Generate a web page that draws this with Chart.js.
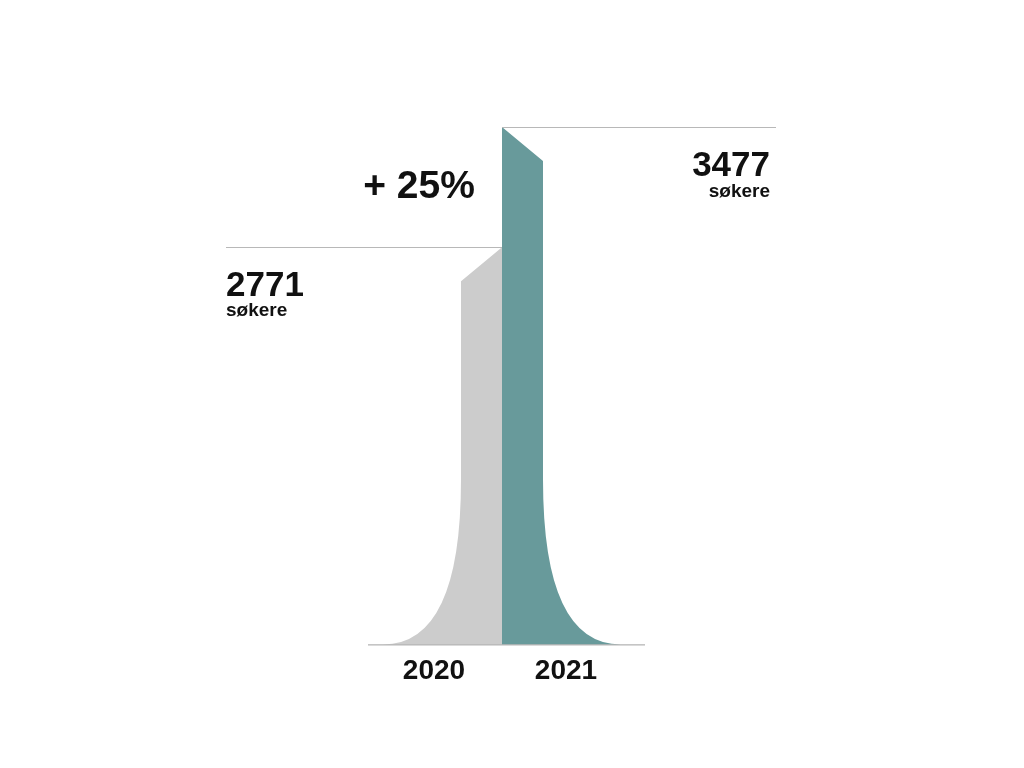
<!DOCTYPE html>
<html>
<head>
<meta charset="utf-8">
<script src="https://cdn.jsdelivr.net/npm/chart.js@4"></script>
<style>
  html, body { margin: 0; background: #fff; }
  #wrap { width: 1024px; height: 768px; }
</style>
</head>
<body>
<div id="wrap"><canvas id="chart"></canvas></div>
<script>
const years = ['2020', '2021'];
const applicants = [2771, 3477];
const growthLabel = '+ 25%';
const unitLabel = 'søkere';
const fills = ['#cccccc', '#689a9b'];

const FONT = "'Liberation Sans', Arial, sans-serif";

// draws the flared columns, guide lines and value labels from the bar elements
const flarePlugin = {
  id: 'flare',
  afterDatasetsDraw(chart) {
    const { ctx, chartArea } = chart;
    const bars = chart.getDatasetMeta(0).data;
    const bottom = chartArea.bottom;
    const mid = (bars[0].x + bars[1].x) / 2;
    const stem = 41, flare = 78, slant = 34, curveH = 165;

    ctx.save();
    bars.forEach((bar, i) => {
      const dir = i === 0 ? -1 : 1;
      const top = bar.y;
      const edge = mid + dir * stem;
      ctx.beginPath();
      ctx.moveTo(mid, top);
      ctx.lineTo(edge, top + slant);
      ctx.lineTo(edge, bottom - curveH);
      ctx.quadraticCurveTo(edge, bottom, edge + dir * flare, bottom);
      ctx.lineTo(mid, bottom);
      ctx.closePath();
      ctx.fillStyle = fills[i];
      ctx.fill();
    });

    // guide lines at each value
    ctx.strokeStyle = '#b8b8b8';
    ctx.lineWidth = 1;
    ctx.beginPath();
    ctx.moveTo(mid - 276, Math.round(bars[0].y) + 0.5);
    ctx.lineTo(mid, Math.round(bars[0].y) + 0.5);
    ctx.moveTo(mid, Math.round(bars[1].y) + 0.5);
    ctx.lineTo(mid + 274, Math.round(bars[1].y) + 0.5);
    ctx.stroke();

    // baseline
    ctx.strokeStyle = '#a0a0a0';
    ctx.beginPath();
    ctx.moveTo(chartArea.left - 2, bottom + 0.5);
    ctx.lineTo(chartArea.right + 11, bottom + 0.5);
    ctx.stroke();

    // value labels
    ctx.fillStyle = '#111';
    ctx.textBaseline = 'alphabetic';
    ctx.textAlign = 'left';
    ctx.font = 'bold 35px ' + FONT;
    ctx.fillText(String(applicants[0]), mid - 276, bars[0].y + 49);
    ctx.font = 'bold 19px ' + FONT;
    ctx.fillText(unitLabel, mid - 276, bars[0].y + 69);

    ctx.textAlign = 'right';
    ctx.font = 'bold 35px ' + FONT;
    ctx.fillText(String(applicants[1]), mid + 268, bars[1].y + 49);
    ctx.font = 'bold 19px ' + FONT;
    ctx.fillText(unitLabel, mid + 268, bars[1].y + 70);

    ctx.textAlign = 'center';
    ctx.font = 'bold 39px ' + FONT;
    ctx.fillText(growthLabel, mid - 83, bars[1].y + 71);
    ctx.restore();
  }
};

new Chart(document.getElementById('chart'), {
  type: 'bar',
  data: {
    labels: years,
    datasets: [{
      data: applicants,
      backgroundColor: 'rgba(0,0,0,0)',
      borderWidth: 0
    }]
  },
  options: {
    responsive: true,
    maintainAspectRatio: false,
    animation: false,
    layout: { padding: { left: 370, right: 390, top: 127, bottom: 70 } },
    plugins: { legend: { display: false }, tooltip: { enabled: false } },
    scales: {
      x: {
        grid: { display: false, drawTicks: false },
        border: { display: false },
        ticks: { color: '#111', padding: 10, labelOffset: -2, font: { family: FONT, size: 28, weight: 'bold' } }
      },
      y: { display: false, min: 440, max: 3477 }
    }
  },
  plugins: [flarePlugin]
});
</script>
</body>
</html>
